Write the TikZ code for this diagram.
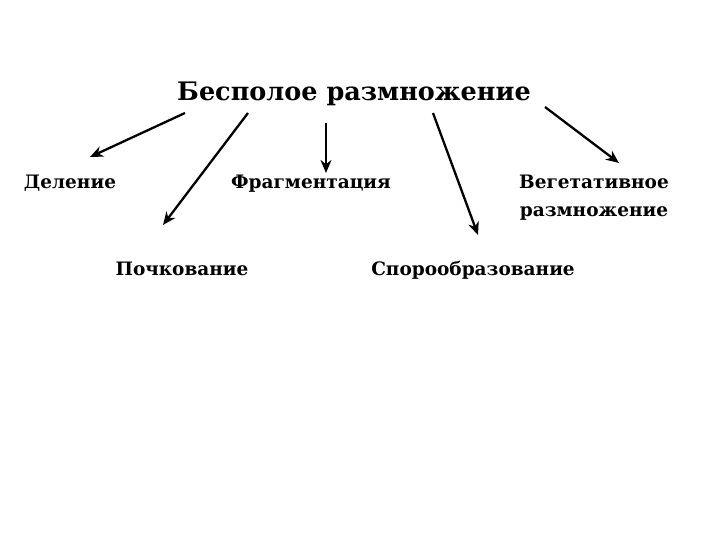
\documentclass[tikz,border=0pt]{standalone}
\usepackage{fontspec}
\setmainfont{DejaVu Serif}
\usetikzlibrary{arrows.meta}

\begin{document}
\begin{tikzpicture}[x=1pt,y=-1pt,
    kind/.style={font=\bfseries\fontsize{18.5}{28}\selectfont,inner sep=0pt,align=center,anchor=base},
    head/.style={font=\bfseries\fontsize{25.5}{30}\selectfont,inner sep=0pt,anchor=base},
    branch/.style={-{Stealth[length=13pt,width=11pt]},line width=2.3pt}]
      \fill[white] (0,0) rectangle (720,540);

      \draw (354,101) node[head] (root) {Бесполое размножение};

      \draw (70,189) node[kind] (fission) {Деление};
      \draw (311,189) node[kind] (fragm) {Фрагментация};
      \draw (594,216) node[kind] (veget) {Вегетативное\\размножение};
      \draw (182,275) node[kind] (budding) {Почкование};
      \draw (473,275) node[kind] (spores) {Спорообразование};

      % arrow ends
      \coordinate (a1) at (185,113);  \coordinate (b1) at (90,157);
      \coordinate (a2) at (248,113);  \coordinate (b2) at (163,225);
      \coordinate (a3) at (326,123);  \coordinate (b3) at (326,173);
      \coordinate (a4) at (433,113);  \coordinate (b4) at (478,235);
      \coordinate (a5) at (545,107);  \coordinate (b5) at (619,163);

      \scope[color=black]
        \draw[branch] (a1) -- (b1);
        \draw[branch] (a2) -- (b2);
        \draw[branch] (a3) -- (b3);
        \draw[branch] (a4) -- (b4);
        \draw[branch] (a5) -- (b5);
      \endscope
\end{tikzpicture}
\end{document}
